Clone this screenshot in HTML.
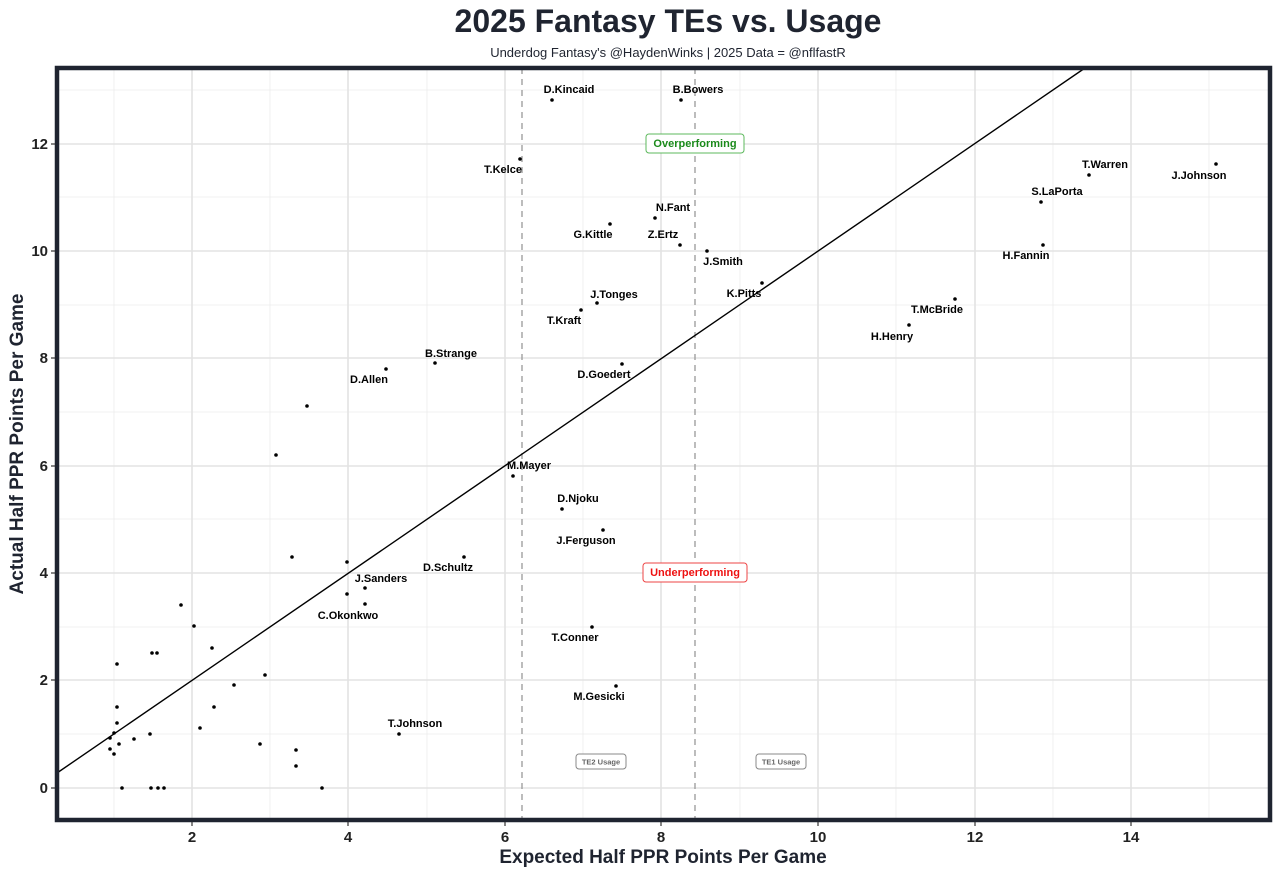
<!DOCTYPE html>
<html><head><meta charset="utf-8"><style>
html,body{margin:0;padding:0;background:#fff;}
svg{display:block;font-family:"Liberation Sans",sans-serif;}
.l{font-size:11px;font-weight:bold;fill:#000;text-anchor:middle;dominant-baseline:central;}
.t{font-size:15px;font-weight:bold;fill:#222;}
</style></head><body>
<svg width="1279" height="874" viewBox="0 0 1279 874">
<rect width="1279" height="874" fill="#fff"/>
<text x="668" y="32" text-anchor="middle" font-size="32" font-weight="bold" fill="#1f2430">2025 Fantasy TEs vs. Usage</text>
<text x="668" y="57" text-anchor="middle" font-size="13" fill="#1f2430">Underdog Fantasy's @HaydenWinks | 2025 Data = @nflfastR</text>
<g stroke="#ececec" stroke-width="0.8">
<line x1="114" y1="68" x2="114" y2="820"/><line x1="270" y1="68" x2="270" y2="820"/><line x1="427" y1="68" x2="427" y2="820"/><line x1="583" y1="68" x2="583" y2="820"/><line x1="740" y1="68" x2="740" y2="820"/><line x1="896" y1="68" x2="896" y2="820"/><line x1="1053" y1="68" x2="1053" y2="820"/><line x1="1209" y1="68" x2="1209" y2="820"/>
<line x1="57" y1="734" x2="1270" y2="734"/><line x1="57" y1="627" x2="1270" y2="627"/><line x1="57" y1="519" x2="1270" y2="519"/><line x1="57" y1="412" x2="1270" y2="412"/><line x1="57" y1="305" x2="1270" y2="305"/><line x1="57" y1="197" x2="1270" y2="197"/><line x1="57" y1="90" x2="1270" y2="90"/>
</g>
<g stroke="#e3e3e3" stroke-width="1.6">
<line x1="192" y1="68" x2="192" y2="820"/><line x1="348" y1="68" x2="348" y2="820"/><line x1="505" y1="68" x2="505" y2="820"/><line x1="661" y1="68" x2="661" y2="820"/><line x1="818" y1="68" x2="818" y2="820"/><line x1="975" y1="68" x2="975" y2="820"/><line x1="1131" y1="68" x2="1131" y2="820"/>
<line x1="57" y1="788" x2="1270" y2="788"/><line x1="57" y1="680" x2="1270" y2="680"/><line x1="57" y1="573" x2="1270" y2="573"/><line x1="57" y1="466" x2="1270" y2="466"/><line x1="57" y1="358" x2="1270" y2="358"/><line x1="57" y1="251" x2="1270" y2="251"/><line x1="57" y1="144" x2="1270" y2="144"/>
</g>
<g stroke="#999" stroke-width="1.3" stroke-dasharray="6,5">
<line x1="522" y1="68" x2="522" y2="820"/><line x1="695" y1="68" x2="695" y2="820"/>
</g>
<line x1="57" y1="773" x2="1085" y2="68" stroke="#000" stroke-width="1.4"/>
<g fill="#000">
<circle cx="552" cy="100" r="1.8"/><circle cx="681" cy="100" r="1.8"/><circle cx="520" cy="159" r="1.8"/><circle cx="655" cy="218" r="1.8"/><circle cx="610" cy="224" r="1.8"/><circle cx="680" cy="245" r="1.8"/><circle cx="707" cy="251" r="1.8"/><circle cx="1089" cy="175" r="1.8"/><circle cx="1216" cy="164" r="1.8"/><circle cx="1041" cy="202" r="1.8"/><circle cx="1043" cy="245" r="1.8"/><circle cx="762" cy="283" r="1.8"/><circle cx="597" cy="303" r="1.8"/><circle cx="581" cy="310" r="1.8"/><circle cx="955" cy="299" r="1.8"/><circle cx="909" cy="325" r="1.8"/><circle cx="435" cy="363" r="1.8"/><circle cx="386" cy="369" r="1.8"/><circle cx="622" cy="364" r="1.8"/><circle cx="513" cy="476" r="1.8"/><circle cx="562" cy="509" r="1.8"/><circle cx="603" cy="530" r="1.8"/><circle cx="464" cy="557" r="1.8"/><circle cx="365" cy="588" r="1.8"/><circle cx="365" cy="604" r="1.8"/><circle cx="592" cy="627" r="1.8"/><circle cx="616" cy="686" r="1.8"/><circle cx="399" cy="734" r="1.8"/>
<circle cx="307" cy="406" r="1.8"/><circle cx="276" cy="455" r="1.8"/><circle cx="292" cy="557" r="1.8"/><circle cx="347" cy="562" r="1.8"/><circle cx="347" cy="594" r="1.8"/><circle cx="181" cy="605" r="1.8"/><circle cx="194" cy="626" r="1.8"/><circle cx="212" cy="648" r="1.8"/><circle cx="117" cy="664" r="1.8"/><circle cx="152" cy="653" r="1.8"/><circle cx="157" cy="653" r="1.8"/><circle cx="134" cy="739" r="1.8"/><circle cx="117" cy="707" r="1.8"/><circle cx="117" cy="723" r="1.8"/><circle cx="114" cy="733" r="1.8"/><circle cx="110" cy="738" r="1.8"/><circle cx="119" cy="744" r="1.8"/><circle cx="110" cy="749" r="1.8"/><circle cx="114" cy="754" r="1.8"/><circle cx="150" cy="734" r="1.8"/><circle cx="200" cy="728" r="1.8"/><circle cx="214" cy="707" r="1.8"/><circle cx="234" cy="685" r="1.8"/><circle cx="265" cy="675" r="1.8"/><circle cx="260" cy="744" r="1.8"/><circle cx="296" cy="750" r="1.8"/><circle cx="296" cy="766" r="1.8"/><circle cx="122" cy="788" r="1.8"/><circle cx="151" cy="788" r="1.8"/><circle cx="158" cy="788" r="1.8"/><circle cx="164" cy="788" r="1.8"/><circle cx="322" cy="788" r="1.8"/>
</g>
<text class="l" x="569" y="90">D.Kincaid</text><text class="l" x="698" y="90">B.Bowers</text><text class="l" x="503" y="170">T.Kelce</text><text class="l" x="673" y="208">N.Fant</text><text class="l" x="593" y="235">G.Kittle</text><text class="l" x="663" y="235">Z.Ertz</text><text class="l" x="723" y="262">J.Smith</text><text class="l" x="1105" y="165">T.Warren</text><text class="l" x="1199" y="176">J.Johnson</text><text class="l" x="1057" y="192">S.LaPorta</text><text class="l" x="1026" y="256">H.Fannin</text><text class="l" x="744" y="294">K.Pitts</text><text class="l" x="614" y="295">J.Tonges</text><text class="l" x="564" y="321">T.Kraft</text><text class="l" x="937" y="310">T.McBride</text><text class="l" x="892" y="337">H.Henry</text><text class="l" x="451" y="354">B.Strange</text><text class="l" x="369" y="380">D.Allen</text><text class="l" x="604" y="375">D.Goedert</text><text class="l" x="529" y="466">M.Mayer</text><text class="l" x="578" y="499">D.Njoku</text><text class="l" x="586" y="541">J.Ferguson</text><text class="l" x="448" y="568">D.Schultz</text><text class="l" x="381" y="579">J.Sanders</text><text class="l" x="348" y="616">C.Okonkwo</text><text class="l" x="575" y="638">T.Conner</text><text class="l" x="599" y="697">M.Gesicki</text><text class="l" x="415" y="724">T.Johnson</text>
<rect x="646" y="134" width="98" height="19" rx="3" fill="#fff" stroke="#5cb85c" stroke-width="1"/>
<text x="695" y="144" text-anchor="middle" dominant-baseline="central" font-size="11" font-weight="bold" fill="#1a8a1a">Overperforming</text>
<rect x="643" y="563" width="104" height="19" rx="3" fill="#fff" stroke="#ee4444" stroke-width="1"/>
<text x="695" y="573" text-anchor="middle" dominant-baseline="central" font-size="11" font-weight="bold" fill="#ee1111">Underperforming</text>
<rect x="576" y="754" width="50" height="15" rx="3" fill="#fff" stroke="#888" stroke-width="1"/>
<text x="601" y="762" text-anchor="middle" dominant-baseline="central" font-size="7.5" font-weight="bold" fill="#666">TE2 Usage</text>
<rect x="756" y="754" width="50" height="15" rx="3" fill="#fff" stroke="#888" stroke-width="1"/>
<text x="781" y="762" text-anchor="middle" dominant-baseline="central" font-size="7.5" font-weight="bold" fill="#666">TE1 Usage</text>
<rect x="57" y="68" width="1213" height="752" fill="none" stroke="#1f2430" stroke-width="4.5"/>
<g stroke="#333" stroke-width="1.2">
<line x1="192" y1="822" x2="192" y2="826"/><line x1="348" y1="822" x2="348" y2="826"/><line x1="505" y1="822" x2="505" y2="826"/><line x1="661" y1="822" x2="661" y2="826"/><line x1="818" y1="822" x2="818" y2="826"/><line x1="975" y1="822" x2="975" y2="826"/><line x1="1131" y1="822" x2="1131" y2="826"/>
<line x1="51" y1="788" x2="55" y2="788"/><line x1="51" y1="680" x2="55" y2="680"/><line x1="51" y1="573" x2="55" y2="573"/><line x1="51" y1="466" x2="55" y2="466"/><line x1="51" y1="358" x2="55" y2="358"/><line x1="51" y1="251" x2="55" y2="251"/><line x1="51" y1="144" x2="55" y2="144"/>
</g>
<g class="t" text-anchor="middle">
<text x="192" y="842">2</text><text x="348" y="842">4</text><text x="505" y="842">6</text><text x="661" y="842">8</text><text x="818" y="842">10</text><text x="975" y="842">12</text><text x="1131" y="842">14</text>
</g>
<g class="t" text-anchor="end">
<text x="48" y="793">0</text><text x="48" y="685">2</text><text x="48" y="578">4</text><text x="48" y="471">6</text><text x="48" y="363">8</text><text x="48" y="256">10</text><text x="48" y="149">12</text>
</g>
<text x="663" y="863" text-anchor="middle" font-size="19" font-weight="bold" fill="#1f2430">Expected Half PPR Points Per Game</text>
<text transform="translate(23,444) rotate(-90)" text-anchor="middle" font-size="19" font-weight="bold" fill="#1f2430">Actual Half PPR Points Per Game</text>
</svg>
</body></html>
